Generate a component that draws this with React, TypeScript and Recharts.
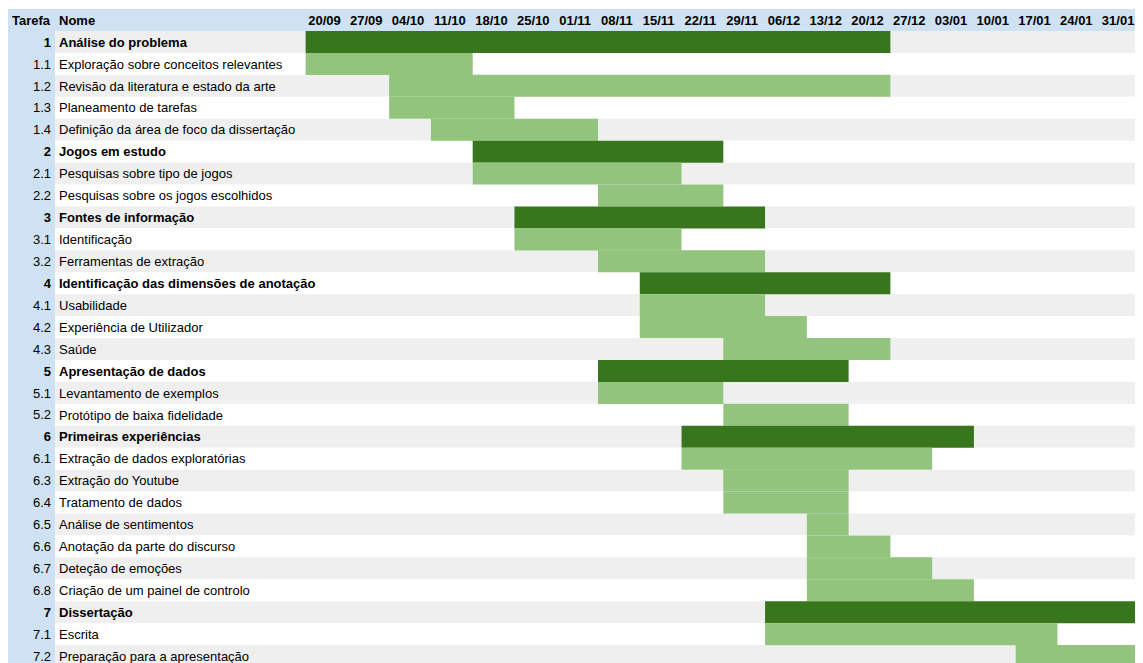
import React from 'react';
import { BarChart, Bar, XAxis, YAxis, Cell, LabelList } from 'recharts';

const taskIds = ['1','1.1','1.2','1.3','1.4','2','2.1','2.2','3','3.1','3.2','4','4.1','4.2','4.3','5','5.1','5.2','6','6.1','6.3','6.4','6.5','6.6','6.7','6.8','7','7.1','7.2'];
const taskNames = [
  'Análise do problema',
  'Exploração sobre conceitos relevantes',
  'Revisão da literatura e estado da arte',
  'Planeamento de tarefas',
  'Definição da área de foco da dissertação',
  'Jogos em estudo',
  'Pesquisas sobre tipo de jogos',
  'Pesquisas sobre os jogos escolhidos',
  'Fontes de informação',
  'Identificação',
  'Ferramentas de extração',
  'Identificação das dimensões de anotação',
  'Usabilidade',
  'Experiência de Utilizador',
  'Saúde',
  'Apresentação de dados',
  'Levantamento de exemplos',
  'Protótipo de baixa fidelidade',
  'Primeiras experiências',
  'Extração de dados exploratórias',
  'Extração do Youtube',
  'Tratamento de dados',
  'Análise de sentimentos',
  'Anotação da parte do discurso',
  'Deteção de emoções',
  'Criação de um painel de controlo',
  'Dissertação',
  'Escrita',
  'Preparação para a apresentação',
];
const startWeeks = [0,0,2,2,3,4,4,7,5,5,7,8,8,8,10,7,7,10,9,9,10,10,12,12,12,12,11,11,17];
const endWeeks   = [14,4,14,5,7,10,9,10,11,9,11,14,11,12,14,13,10,13,16,15,13,13,13,14,15,16,20,18,20];
const weekLabels = ['20/09','27/09','04/10','11/10','18/10','25/10','01/11','08/11','15/11','22/11','29/11','06/12','13/12','20/12','27/12','03/01','10/01','17/01','24/01','31/01'];

const NAME_COL_WEEKS = 6;
const DARK = '#38761d';
const LIGHT = '#93c47d';
const GRAY = '#efefef';
const BLUE = '#cfe2f3';
const FONT = '"Liberation Sans", Arial, Helvetica, sans-serif';

const CHART_W = 1135;
const CHART_H = 659;
const ID_W = 47;
const HEADER_TOP = 1;
const HEADER_H = 22;
const ROW_H = (CHART_H - HEADER_TOP - HEADER_H) / taskIds.length;

const data = taskIds.map((id, i) => ({
  id,
  name: taskNames[i],
  range: [startWeeks[i], endWeeks[i]],
  main: !id.includes('.'),
}));

const headerTicks = [-NAME_COL_WEEKS, ...weekLabels.map((_, i) => i + 0.5)];

const HeaderTick = (props: any) => {
  const { x, payload } = props;
  const v = payload.value;
  const textY = HEADER_TOP + HEADER_H / 2;
  if (v === -NAME_COL_WEEKS) {
    return (
      <g>
        <rect x={0} y={HEADER_TOP} width={CHART_W - 2} height={HEADER_H} fill={BLUE} />
        <text x={4} y={textY} dy="0.36em" fontFamily={FONT} fontSize={13} fontWeight="bold" fill="#000">Tarefa</text>
        <text x={x + 4} y={textY} dy="0.36em" fontFamily={FONT} fontSize={13} fontWeight="bold" fill="#000">Nome</text>
      </g>
    );
  }
  const label = weekLabels[Math.floor(v)];
  return (
    <text x={x - 2} y={textY} dy="0.36em" textAnchor="middle" fontFamily={FONT} fontSize={13} fontWeight="bold" fill="#000">{label}</text>
  );
};

const IdTick = (props: any) => {
  const { y, payload } = props;
  const id = String(payload.value);
  const main = !id.includes('.');
  return (
    <g>
      <rect x={0} y={y - ROW_H / 2 - 0.5} width={ID_W} height={ROW_H + 1} fill={BLUE} />
      <text x={ID_W - 4} y={y} dy="0.36em" textAnchor="end" fontFamily={FONT} fontSize={13} fontWeight={main ? 'bold' : 'normal'} fill="#000">{id}</text>
    </g>
  );
};

const NameLabel = (props: any) => {
  const { y, height, value, index } = props;
  const main = data[index] ? data[index].main : false;
  return (
    <text x={ID_W + 4} y={y + height / 2} dy="0.36em" fontFamily={FONT} fontSize={13} fontWeight={main ? 'bold' : 'normal'} fill="#000">{value}</text>
  );
};

const StripeBackground = (props: any) => {
  const { x, y, width, height, index } = props;
  return <rect x={x} y={y} width={width} height={height} fill={index % 2 === 0 ? GRAY : '#ffffff'} />;
};

export default function App() {
  return (
    <div style={{ width: CHART_W, height: CHART_H }}>
      <BarChart
        width={CHART_W}
        height={CHART_H}
        data={data}
        layout="vertical"
        margin={{ top: HEADER_TOP, right: 2, bottom: 0, left: 0 }}
        barCategoryGap={0}
        barGap={0}
      >
        <XAxis
          type="number"
          orientation="top"
          domain={[-NAME_COL_WEEKS, weekLabels.length]}
          ticks={headerTicks}
          interval={0}
          height={HEADER_H}
          axisLine={false}
          tickLine={false}
          tick={<HeaderTick />}
          allowDataOverflow
        />
        <YAxis
          type="category"
          dataKey="id"
          width={ID_W}
          interval={0}
          axisLine={false}
          tickLine={false}
          tick={<IdTick />}
        />
        <Bar dataKey="range" isAnimationActive={false} background={<StripeBackground />}>
          {data.map((d, i) => (
            <Cell key={i} fill={d.main ? DARK : LIGHT} />
          ))}
          <LabelList dataKey="name" content={<NameLabel />} />
        </Bar>
      </BarChart>
    </div>
  );
}
